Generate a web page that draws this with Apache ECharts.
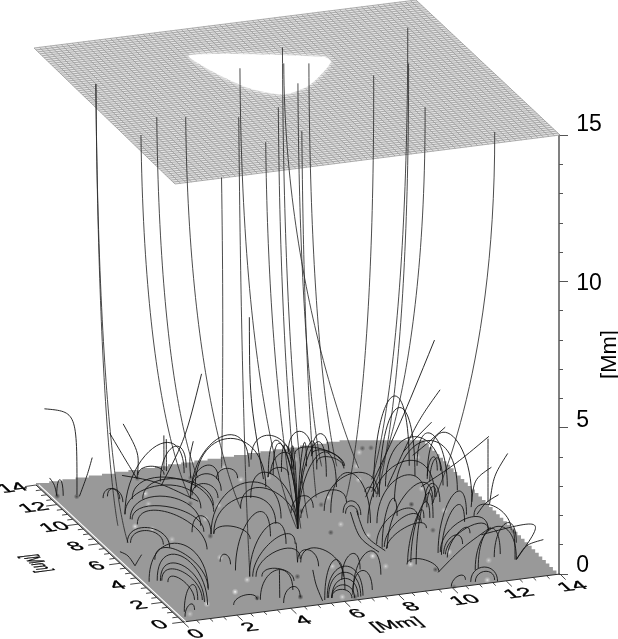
<!DOCTYPE html>
<html><head><meta charset="utf-8">
<style>html,body{margin:0;padding:0;background:#fff}#c{width:618px;height:639px}</style>
<script src="https://cdn.jsdelivr.net/npm/echarts@6/dist/echarts.min.js"></script>
</head><body><div id="c"></div>
<script>
// ---------- axis values (Mm) ----------
const X_TICK_LABELS = [0,2,4,6,8,10,12,14];
const Y_TICK_LABELS = [0,2,4,6,8,10,12,14];
const Z_MAX = 15, Z_MAJOR = 5;
const AXIS_NAME = '[Mm]';
const MINOR_STEP = 0.5;
const MESH_CELLS = 70;

// floor outline (x, y) in Mm; the far corner is cut off in the original
const FLOOR_FRONT = [[0,14],[0,0],[14,0]];
const FLOOR_RIGHT_END = [14,13.1];
const FLOOR_CUT = [11.67,14];

// white hole of the upper plane (x, y) in Mm
const HOLE = [[4.78,11.56],[9.1,9.85],[9.12,9.3],[7.63,7.44],[6.53,6.91],[5.61,7.86],[5.01,9.72]];

// bright and dark magnetogram spots: x, y, strength
const BRIGHT_SPOTS = [[2.75,2.1,1],[3.21,11.87,.7],[2.96,10.93,.5],[1.76,9.1,.8],[2.21,8.64,.6],[2.51,7.51,.5],[3.45,5.33,.7],[1.41,1.34,.8],[4.29,8.93,.6],[3.56,3.04,.7],[.51,.64,.5],[8.46,3.68,.9],[9,5.53,.6],[8.49,6.83,.6],[6.8,3.24,.6],[13.19,11.73,.7],[12.3,8.97,.6],[12.32,6.82,.7],[11.09,3.16,.8],[12.11,1.98,.6],[11.41,.28,.8],[8.54,2.63,.6],[6.08,.42,.7],[9.42,2.52,.7],[11.47,12.85,.6],[10.94,11.7,.6],[10.56,10.51,.7],[9.17,13.04,.6],[6.63,13.22,.6],[6.76,11.94,.7],[7.72,11.81,.6],[5.17,9.95,.6],[8.98,9.32,.6]];
const DARK_SPOTS = [[7.89,6.23,.7],[10.06,1.78,.7],[13.88,4.23,.6],[11.29,5.24,.6],[11.45,7.74,.8],[11.71,13.17,.6],[12,13.1,.6],[8.51,8.77,.6],[7.65,8.46,.8],[5.31,2.74,.7],[3.26,1.31,.8],[4.71,.9,.9],[3.86,7.34,.7],[.3,12.75,.8],[.91,12.47,.8],[6.5,.3,.7],[4.32,10.45,.5],[3.47,13.31,.6],[5.2,12.7,.6],[10.08,.05,.5]];

// lines reaching the upper plane: foot x, foot y, top x, top y, bend height
const TALL_LINES = [
[.97,7.73,.79,10,1.7],[1.23,9.37,.79,10,3],[4.5,10.89,.54,4.85,5.2],[5.43,12.6,1.65,6.3,5.3],
[5.78,9.4,2.58,5.96,5.3],[6.53,13.2,1.71,.05,9],[3.76,3.28,4.29,5.35,3.6],[6.92,6.98,5.98,9.79,2.9],
[6.95,6.97,4.32,2.77,6.1],[7.05,6.93,5.9,5.8,4.9],[7.62,7.75,8.06,11.2,2.9],[10.94,11.5,7.56,9.73,6.9],
[9.8,12.1,7.34,7.75,4.8],[8.59,9.46,5.85,3.35,5.8],[10.29,11.92,8.37,9.44,4.5],[9.57,9.12,10.05,7.6,3.9],
[10.98,10.36,12.78,11.56,2.9],[10.55,8.77,11.58,8.28,3.4],[10.56,9.28,10.62,4.1,5.3],[12.11,7.5,12.01,1.03,6.5]];

// closed loops: foot 1 x, y, foot 2 x, y, apex height
const LOOPS = [
[1.7,12,2.2,11.7,.35],[1.9,12.1,2.2,11.4,.35],[.3,12.8,.5,12.7,.55],[1.85,10.3,4.5,9.9,.9],[1.85,9.8,3.9,8.35,.9],
[1.9,9.75,3.8,7.8,.65],[1.9,9.25,3.3,6.2,.8],[.95,7.75,2.15,6.8,.6],[1.05,7.7,2.05,7.15,.45],[.3,4,1.95,2.6,1.45],
[.6,4,1.4,1.25,1.25],[.7,3.95,1.4,1.55,.9],[.75,3.95,1.4,1.75,.65],[1.25,5.9,2,2.75,.75],[.4,.9,1.25,1.8,.7],
[.9,3.75,1.15,1.85,.4],[.25,.45,.8,.95,.3],[2.6,11.55,4.8,9.45,.95],[2.95,11.45,5,10,.8],[4.1,12.75,5.4,13.65,.95],
[3.6,13.6,4.45,13.3,.3],[1.85,10.3,5.15,13.2,1.6],[4.5,10.9,7.45,12.95,1.55],[4.75,11.5,6,12.1,.7],[4.75,11.5,5.75,11.2,.6],
[4.65,11.15,5.4,10.6,.45],[3.95,7.5,6.75,8.05,1.5],[4.05,7.5,6.4,7.65,1.1],[4.05,7.5,5.05,6.6,.35],[3.4,7.9,3.95,7.5,.6],
[3.3,4.95,3.55,4.6,.3],[3.75,3.3,6.05,5.75,1.15],[3.85,3.25,6.35,5.65,.7],[3.95,3.2,6,4.25,.6],[4.15,3.15,5.05,2.4,.35],
[2.25,.95,3.2,1.15,.25],[3.3,1.1,4.7,1.6,.85],[3.95,.55,4.7,.9,.45],
[6.95,6.97,7.72,11.81,1.95],[6.95,6.97,7.95,11.94,1.77],[6.95,6.97,8.32,12.11,1.62],[6.95,6.97,8.75,12.27,1.47],
[6.95,6.97,9.31,12.28,1.54],[6.95,6.97,9.54,11.89,1.69],[6.95,6.97,9.61,11.15,1.88],[6.95,6.97,9.59,10.13,1.77],
[6.95,6.97,6.46,10.21,1.3],[6.95,6.97,5.78,9.42,1],
[5,11.75,7.3,10.95,1.7],[7.75,13.55,8.8,12.15,1],[9.2,13.75,9.9,13.3,.75],[9.9,13.3,10.45,13.1,.7],[9.35,13.5,10.55,11.85,.4],
[9.8,13.1,10.5,11.85,.35],[9.75,12.45,10.45,11.65,.3],[7.9,12.05,8.9,12.45,.6],[7.7,11.8,8.45,11.75,.3],[6,12.3,6.7,12.1,.35],
[8.4,8.2,10.7,9,1],[7.4,7.85,9.4,8.65,.65],[12.9,11,13.2,8.85,1.45],[12.9,10,13.5,7.25,1.9],[11.85,7.3,12.5,8.1,.5],
[11.95,7.75,12.45,7.6,.65],[12.8,9.75,13.4,10.35,.6],[12.8,9.5,13.5,10.3,.6],[9,4.7,11.15,6.3,.7],[9.15,4.35,11.15,6,.6],
[9.15,4.15,11.15,5.5,.4],[9.4,6.6,12.45,8.1,1.65],[9.7,6.5,12,7.75,1.25],[8.55,7.95,9.5,6.6,1.55],[9.4,2.75,11.4,6.4,.7],
[9.5,2.7,11.6,6.35,1.05],[9.6,2.45,11.7,6.3,1.45],[9.3,2.55,10.1,1.55,.3],[10.8,3.25,13.1,4.6,.75],[10.9,3,13.1,4.6,.5],
[10.85,2.7,12.4,4.55,.45],[10.85,3.05,11.8,3.7,.45],[11.35,1.3,13.05,1.75,1.3],[13.1,6,13.85,4.35,.6],[10.8,.3,11.7,.05,.5],
[10.95,.25,11.65,.2,.33],[10,.1,10.7,.55,.25],[5.7,.45,6.35,.2,.3],[5.7,.45,6.45,.2,.45],[5.7,.45,6.6,.25,.65],
[5.6,.5,6.7,.25,.85],[5.55,.5,6.8,.3,1.05],[5.4,.35,6.4,1,1.2],[6.5,.5,8.1,1.95,1.1],[6.6,.75,7.3,.7,.7],
[5.9,3.95,6.8,2.2,.7],[6.65,1.95,7.6,2.65,.7],[5.8,4,6.35,3.4,.5],[8.95,7.8,9.45,7.4,.45],[9,7.7,9.35,7.4,.3],
[10.35,9.35,10.65,9.05,.2],[7.25,8.4,8.15,8.6,.5],[10.45,8.8,12.65,11.1,2.9],[10.65,8.75,12.5,10.15,2.7],
[9.05,4.3,10.6,6.9,1],[9.2,4.2,12.2,7.6,1.25],[10.7,3.2,12.9,6.2,1.3],[10.75,3,12.6,5.6,1],[11.2,9.6,13.1,9,1.7],
[11,8.2,13.4,8.4,1.9],[3.5,4,5.8,6.6,1.3],[12.4,2.2,13.6,3.2,.9],[11.5,1.4,12.7,2.4,1.1]];

// open lines: foot x, y, bend x, y, z, end x, y, z
const OPEN_LINES = [
[.98,12.63,1,12.63,2.85,-.2,12.63,3.1],[.3,12.8,.23,12.8,.38,.04,12.8,.64],[1,12.45,1.3,12.45,.7,1.48,12.45,1.27],
[3.45,13.3,3,13.3,.75,2.45,13.3,1.7],[3.45,13.3,3.55,13.3,.85,2.95,13.3,1.95],[4.6,13.7,4.6,13.7,.6,4.6,13.7,1.2],
[4.65,13.6,4.65,13.6,.5,4.65,13.6,1.1],[5.2,12.7,5.15,12.7,.7,5.3,12.7,1.25],[4.65,10.55,3.1,10.55,.9,1.85,10.55,1.25],
[.4,5.6,.15,5.6,.4,-.15,5.6,.55],[.4,5.6,.5,5.6,.15,.65,5.6,.35],[7.5,11.7,7,11.7,2.85,7,11.7,5.65],
[4,12.4,4.9,12.4,1.5,5.5,12.4,3.65],[10.2,8.9,11.5,8.9,2.4,12.75,8.9,5.1],[11.25,9.55,12.35,9.55,2.1,13.2,9.55,3.1],
[13.1,11.95,13.65,11.95,.35,14.3,11.95,.82],[12.9,12.35,13.4,12.35,.45,13.95,12.35,.9],[12.35,9.15,13.65,9.15,.63,14.85,9.15,1.42],
[14,7,14,7,1.1,14,7,2.2],[14,6.85,14.15,6.85,.96,14.67,6.85,1.66],[13.3,6.8,13.4,6.8,.95,14.05,6.8,1.28],
[13.25,6.1,13.55,6.1,.37,14.05,6.1,.58],[13.05,1.75,14.15,1.75,1.3,11.75,1.75,1],[13.05,1.75,13.4,1.75,.47,14.05,1.75,.56],
[13,1.75,13,1.75,.5,12.95,1.75,1.03],[10.05,1.5,10.95,1.5,.75,12,1.5,1.31],[8.8,3.95,8.05,3.95,.55,7.75,3.95,1.5],
[9.05,4,8.3,4,.55,8,4,1.5],[5.3,.3,5.05,.3,.58,4.95,.3,1.1],[4,1.05,4,1.05,.5,4,1.05,.95],[5.8,4,5.78,4,.35,5.75,4,.68]];

// ---------- view: picture position of the box corners ----------
const VIEW = {
  floor: {o:[183,622], x:[560,574], y:[36,485], xy:[416,431]},
  top:   {o:[175,184], x:[560,135], y:[34,48],  xy:[416,0]}
};
const SPAN = 14;
// how far each height label sits above its tick in the original
const Z_LABEL_LIFT = {0:8,5:7,10:-2,15:10};

function project(x,y,z){
  const a=x/SPAN,b=y/SPAN,c=z/Z_MAX, out=[0,0];
  for(let i=0;i<2;i++){
    const bl=q=>q.o[i]*(1-a)*(1-b)+q.x[i]*a*(1-b)+q.y[i]*(1-a)*b+q.xy[i]*a*b;
    out[i]=bl(VIEW.floor)*(1-c)+bl(VIEW.top)*c;
  }
  return out;
}
const LINE='#141414';

function custom(data,renderItem,z){
  return {type:'custom',coordinateSystem:'cartesian2d',xAxisIndex:0,yAxisIndex:0,data:data.map((_,i)=>[i,i]),
    renderItem,clip:false,silent:true,animation:false,z:z||2};
}
const one=[0];

// 2x2 map -> rotation, scale, rotation, so floor-plane text can be sheared
function shearText(api,at,text,xv,yv){
  const c=api.coord(at);
  const E=(xv[0]+yv[1])/2,F=(xv[0]-yv[1])/2,G=(xv[1]+yv[0])/2,H=(xv[1]-yv[0])/2;
  const Q=Math.hypot(E,H),R=Math.hypot(F,G);
  const a1=Math.atan2(G,F),a2=Math.atan2(H,E);
  const th=(a2-a1)/2,ph=(a2+a1)/2;
  return {type:'group',x:c[0],y:c[1],rotation:-ph,scaleX:Q+R,scaleY:Q-R,children:[
    {type:'text',rotation:-th,style:{text:String(text),x:0,y:0,align:'center',verticalAlign:'middle',fill:'#000',
      font:'16px "Liberation Sans"',stroke:'#000',lineWidth:.35}}]};
}
const xDir=[.992,-.126], yDir=[-.73,-.68];
const mul=(v,k)=>[v[0]*k,v[1]*k];

// mesh lines of upper plane
const meshRows=[];
for(let i=0;i<=MESH_CELLS;i++){const t=i/MESH_CELLS*SPAN;meshRows.push([t,0,t,SPAN]);meshRows.push([0,t,SPAN,t]);}

// tick rows on the floor
const xTickRows=[],yTickRows=[];
for(let t=0;t<=SPAN;t+=MINOR_STEP){
  const major=t%2===0;
  xTickRows.push([t,0,t,major?-.55:-.3]);
  yTickRows.push([0,t,major?-.4:-.2,t]);
}
const segRender=(rows,stroke,w)=>(p,api)=>{
  const r=rows[p.dataIndex],a=api.coord(project(r[0],r[1],0)),b=api.coord(project(r[2],r[3],0));
  return {type:'line',shape:{x1:a[0],y1:a[1],x2:b[0],y2:b[1]},style:{stroke,lineWidth:w}};
};

const zRich={};
Object.keys(Z_LABEL_LIFT).forEach(k=>{
  const L=Z_LABEL_LIFT[k];
  zRich['z'+k]={fontFamily:'Liberation Sans',fontSize:23,color:'#000',
    padding:L>=0?[0,0,2*L,0]:[-2*L,0,0,0]};
});

const series=[
 // upper plane
 custom(one,(p,api)=>{
   const pts=[[0,0],[SPAN,0],[SPAN,SPAN],[0,SPAN]].map(q=>api.coord(project(q[0],q[1],Z_MAX)));
   return {type:'polygon',shape:{points:pts},style:{fill:'#e4e4e4'}};
 },1),
 custom(meshRows,(p,api)=>{
   const r=meshRows[p.dataIndex],a=api.coord(project(r[0],r[1],Z_MAX)),b=api.coord(project(r[2],r[3],Z_MAX));
   return {type:'line',shape:{x1:a[0],y1:a[1],x2:b[0],y2:b[1]},style:{stroke:'#969696',lineWidth:.75}};
 },2),
 custom(one,(p,api)=>({type:'polygon',shape:{points:HOLE.map(q=>api.coord(project(q[0],q[1],Z_MAX))),smooth:.25},
   style:{fill:'#fff',shadowBlur:5,shadowColor:'#fff'}}),3),
 // floor
 custom(one,(p,api)=>{
   const pts=FLOOR_FRONT.map(q=>api.coord(project(q[0],q[1],0)));
   let prev=pts[pts.length-1];
   const n1=38;
   for(let i=1;i<=n1;i++){
     const cur=api.coord(project(14,FLOOR_RIGHT_END[1]*i/n1,0));
     pts.push([cur[0],prev[1]]);pts.push(cur);prev=cur;
   }
   const c=api.coord(project(FLOOR_CUT[0],FLOOR_CUT[1],0));
   pts.push([c[0],prev[1]]);
   prev=[c[0],prev[1]];
   const n2=24;
   for(let i=1;i<=n2;i++){
     const cur=api.coord(project(FLOOR_CUT[0]*(1-i/n2),14,0));
     pts.push([cur[0],prev[1]]);pts.push(cur);prev=cur;
   }
   return {type:'polygon',shape:{points:pts},style:{fill:'#999999'}};
 },4),
 custom(DARK_SPOTS,(p,api)=>{
   const s=DARK_SPOTS[p.dataIndex],c=api.coord(project(s[0],s[1],0));
   return {type:'rect',shape:{x:c[0]-11,y:c[1]-3,width:22,height:6},style:{fill:{type:'radial',x:.5,y:.5,r:.5,colorStops:[
     {offset:0,color:`rgba(50,50,50,${s[2]})`},{offset:1,color:'rgba(50,50,50,0)'}]}}};
 },5),
 custom(BRIGHT_SPOTS,(p,api)=>{
   const s=BRIGHT_SPOTS[p.dataIndex],c=api.coord(project(s[0],s[1],0));
   return {type:'rect',shape:{x:c[0]-10,y:c[1]-3.5,width:20,height:7},style:{fill:{type:'radial',x:.5,y:.5,r:.5,colorStops:[
     {offset:0,color:`rgba(255,255,255,${s[2]})`},{offset:.4,color:`rgba(240,240,240,${s[2]*.5})`},{offset:1,color:'rgba(230,230,230,0)'}]}}};
 },6),
 // floor axes
 custom(one,(p,api)=>{
   const o=api.coord(project(0,0,0)),x=api.coord(project(SPAN,0,0)),y=api.coord(project(0,SPAN,0));
   return {type:'polyline',shape:{points:[y,o,x]},style:{fill:'none',stroke:'#2a2a2a',lineWidth:1}};
 },7),
 custom(one,(p,api)=>{
   const o=api.coord(project(.1,0,0)),y=api.coord(project(.1,SPAN,0));
   return {type:'line',shape:{x1:o[0],y1:o[1],x2:y[0],y2:y[1]},style:{stroke:'#fff',lineWidth:1.2}};
 },7),
 custom(xTickRows,segRender(xTickRows,'#333',.9),7),
 custom(yTickRows,segRender(yTickRows,'#333',.9),7),
 custom(X_TICK_LABELS,(p,api)=>{
   const v=X_TICK_LABELS[p.dataIndex];
   return shearText(api,project(v,-1.25,0),v,mul(xDir,1.5),mul(yDir,-1.05));
 },8),
 custom(Y_TICK_LABELS,(p,api)=>{
   const v=Y_TICK_LABELS[p.dataIndex];
   return shearText(api,project(-.85,v,0),v,mul(xDir,1.5),mul(yDir,-1.05));
 },8),
 custom(one,(p,api)=>shearText(api,project(6.93,-2.63,0),AXIS_NAME,mul(xDir,1.4),mul(yDir,-1.05)),8),
 custom(one,(p,api)=>shearText(api,project(-2.7,7,0),AXIS_NAME,mul(yDir,-.7),mul(xDir,-1.4)),8),
 // field lines
 custom(TALL_LINES,(p,api)=>{
   const r=TALL_LINES[p.dataIndex],f=api.coord(project(r[0],r[1],0)),c=api.coord(project(r[2],r[3],r[4])),t=api.coord(project(r[2],r[3],Z_MAX));
   return {type:'bezierCurve',shape:{x1:f[0],y1:f[1],cpx1:f[0],cpy1:f[1],cpx2:c[0],cpy2:c[1],x2:t[0],y2:t[1]},style:{fill:'none',stroke:'#2c2c2c',lineWidth:.85}};
 },10),
 custom(LOOPS,(p,api)=>{
   const r=LOOPS[p.dataIndex],k=r[4]*4/3;
   const a=api.coord(project(r[0],r[1],0)),ca=api.coord(project(r[0],r[1],k)),cb=api.coord(project(r[2],r[3],k)),b=api.coord(project(r[2],r[3],0));
   return {type:'bezierCurve',shape:{x1:a[0],y1:a[1],cpx1:ca[0],cpy1:ca[1],cpx2:cb[0],cpy2:cb[1],x2:b[0],y2:b[1]},style:{fill:'none',stroke:LINE,lineWidth:.9}};
 },10),
 custom(OPEN_LINES,(p,api)=>{
   const r=OPEN_LINES[p.dataIndex];
   const a=api.coord(project(r[0],r[1],0)),c=api.coord(project(r[2],r[3],r[4])),b=api.coord(project(r[5],r[6],r[7]));
   return {type:'bezierCurve',shape:{x1:a[0],y1:a[1],cpx1:c[0],cpy1:c[1],cpx2:c[0],cpy2:c[1],x2:b[0],y2:b[1]},style:{fill:'none',stroke:LINE,lineWidth:.9}};
 },10)
];

const chart=echarts.init(document.getElementById('c'),null,{renderer:'canvas'});
chart.setOption({
  animation:false,
  backgroundColor:'#fff',
  grid:[{left:0,top:0,width:618,height:639},{left:559,width:1,top:135,height:439}],
  xAxis:[{type:'value',gridIndex:0,min:0,max:618,show:false},{type:'value',gridIndex:1,min:0,max:1,show:false}],
  yAxis:[{type:'value',gridIndex:0,min:0,max:639,inverse:true,show:false},
   {type:'value',gridIndex:1,min:0,max:Z_MAX,interval:Z_MAJOR,position:'right',
    name:AXIS_NAME,nameLocation:'middle',nameGap:40,nameRotate:90,nameMoveOverlap:false,
    nameTextStyle:{fontFamily:'Liberation Sans',fontSize:22,color:'#000'},
    axisLine:{show:true,lineStyle:{color:'#808080',width:2}},
    axisTick:{show:true,length:9,lineStyle:{color:'#555',width:1}},
    minorTick:{show:true,splitNumber:5,length:4,lineStyle:{color:'#555',width:1}},
    splitLine:{show:false},
    axisLabel:{show:true,margin:17,verticalAlign:'middle',hideOverlap:false,showMinLabel:true,showMaxLabel:true,
      formatter:v=>`{z${v}|${v}}`,rich:zRich}}],
  series
});
</script></body></html>
